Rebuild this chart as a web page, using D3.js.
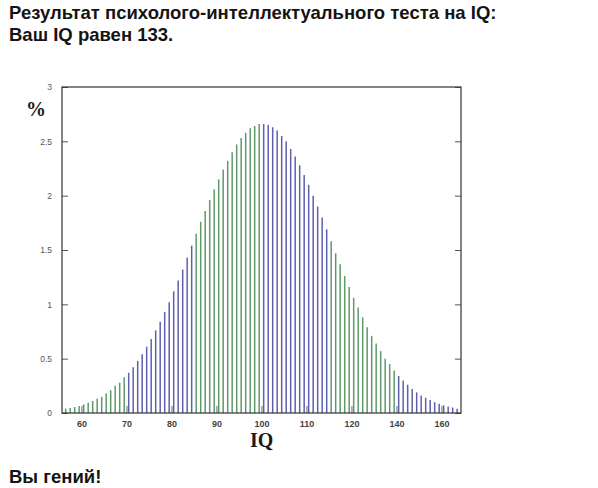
<!DOCTYPE html>
<html>
<head>
  <meta charset="utf-8" />
  <script src="https://d3js.org/d3.v7.min.js"></script>
  <style>
    body { margin: 0; background: #fff; }
    svg { display: block; }
    .head { font-family: "Liberation Sans", Arial, sans-serif; font-weight: bold; font-size: 18.5px; fill: #141414; }
    .unit { font-family: "Liberation Serif", "Times New Roman", serif; font-weight: bold; fill: #1a1a1a; }
    .domain { display: none; }
  </style>
</head>
<body>
<div id="chart"></div>
<script>
// one value per bar, left to right
var percents = [.04,.045,.055,.065,.08,.095,.11,.13,.15,.18,.21,.25,.28,.33,
  .37,.42,.48,.54,.61,.68,.76,.84,.93,1.02,1.12,1.22,1.32,1.43,1.54,
  1.65,1.76,1.86,1.96,2.06,2.15,2.24,2.32,2.40,2.47,2.53,2.58,2.62,2.64,2.66,
  2.66,2.65,2.63,2.60,2.55,2.50,2.43,2.36,2.28,2.19,2.10,2.00,1.90,1.80,1.69,
  1.58,1.47,1.37,1.26,1.16,1.06,.97,.88,.79,.71,.64,.57,.50,.45,.39,.34,
  .30,.26,.22,.19,.16,.14,.12,.10,.085,.07,.06,.05,.04];
// how many bars each colour band holds
var bandSizes = [14, 15, 15, 15, 15, 14];
var bandColors = ["#5d9a68", "#5f5fb0"];
// the axis is not linear: 120, 140, 160 sit at the same spacing as the tens
var xTickSteps = [3.5, 13.5, 23.5, 33.5, 43.5, 53.5, 63.5, 73.5, 83.5];
var xTickLabels = ["60", "70", "80", "90", "100", "110", "120", "140", "160"];
var yTicks = [0, 0.5, 1, 1.5, 2, 2.5, 3];
var titleLines = ["Результат психолого-интеллектуального теста на IQ:", "Ваш IQ равен 133."];
var footer = "Вы гений!";

var margin = {top: 87, right: 137, bottom: 75, left: 62},
    width = 598 - margin.left - margin.right,
    height = 488 - margin.top - margin.bottom;

var root = d3.select("#chart").append("svg")
  .attr("width", 598)
  .attr("height", 488);

var svg = root.append("g")
  .attr("transform", "translate(" + margin.left + "," + margin.top + ")");

var x = d3.scaleLinear().domain([-0.82, 87.85]).range([0, width]);
var y = d3.scaleLinear().domain([0, 3]).range([height, 0]);

// colour of a bar from the band it falls in
var bandOf = [];
bandSizes.forEach(function(n, b) {
  for (var i = 0; i < n; i++) bandOf.push(b);
});

svg.selectAll("line.bar")
  .data(percents)
  .enter().append("line")
    .attr("class", "bar")
    .attr("x1", function(d, i) { return x(i); })
    .attr("x2", function(d, i) { return x(i); })
    .attr("y1", y(0))
    .attr("y2", function(d) { return y(d); })
    .attr("stroke", function(d, i) { return bandColors[bandOf[i] % 2]; })
    .attr("stroke-width", 1.5);

// y axis, labels on the left, ticks pointing in
var yAxis = svg.append("g")
  .call(d3.axisLeft(y).tickValues(yTicks).tickSize(-6).tickPadding(10).tickFormat(d3.format("")));
yAxis.selectAll("text").style("font-family", "Liberation Sans").style("font-size", "8.5px").style("fill", "#555");
yAxis.selectAll("line").attr("stroke", "#555");

svg.append("g")
  .attr("transform", "translate(" + width + ",0)")
  .call(d3.axisRight(y).tickValues(yTicks).tickSize(-6).tickFormat(""))
  .selectAll("line").attr("stroke", "#555");

// x axis
var xAxis = svg.append("g")
  .attr("transform", "translate(0," + height + ")")
  .call(d3.axisBottom(x).tickValues(xTickSteps).tickSize(-7).tickPadding(8)
    .tickFormat(function(d, i) { return xTickLabels[i]; }));
xAxis.selectAll("text").style("font-family", "Liberation Sans").style("font-size", "9px").style("font-weight", "bold").style("fill", "#444");
xAxis.selectAll("line").attr("stroke", "#999").attr("stroke-width", 1.5);

// frame
svg.append("rect")
  .attr("width", width)
  .attr("height", height)
  .attr("fill", "none")
  .attr("stroke", "#333")
  .attr("stroke-width", 1.2);

root.selectAll("text.head")
  .data(titleLines)
  .enter().append("text")
    .attr("class", "head")
    .attr("x", 9)
    .attr("y", function(d, i) { return 18.5 + i * 22; })
    .text(function(d) { return d; });

root.append("text").attr("class", "head").attr("x", 9).attr("y", 483).text(footer);
root.append("text").attr("class", "unit").attr("x", 26).attr("y", 116).style("font-size", "20px").text("%");
root.append("text").attr("class", "unit").attr("x", 250).attr("y", 447).style("font-size", "20px").text("IQ");
</script>
</body>
</html>
